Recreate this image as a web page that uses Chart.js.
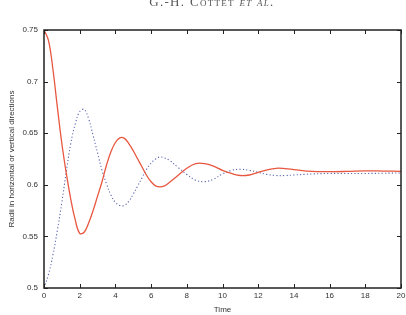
<!DOCTYPE html>
<html>
<head>
<meta charset="utf-8">
<script src="https://cdn.jsdelivr.net/npm/chart.js@4.4.1/dist/chart.umd.min.js"></script>
<style>
html,body{margin:0;padding:0;background:#fff;}
#wrap{position:relative;width:406px;height:315px;overflow:hidden;}
#hdr{position:absolute;left:0;width:424px;top:-6px;text-align:center;font-family:"Liberation Serif","DejaVu Serif",serif;font-size:13px;color:#555;font-variant:small-caps;letter-spacing:1.3px;}
canvas{position:absolute;left:0;top:0;}
</style>
</head>
<body>
<div id="wrap">
<canvas id="c" width="406" height="315"></canvas>
<div id="hdr">G.-H. Cottet <i>et al.</i></div>
</div>
<script>
const xTicks = [0,2,4,6,8,10,12,14,16,18,20];
const yTicks = [0.5,0.55,0.6,0.65,0.7,0.75];
const yTickLabels = ["0.5","0.55","0.6","0.65","0.7","0.75"];

const redTime  = [0,0.25,0.5,0.75,1.0,1.25,1.5,1.75,2.0,2.25,2.5,2.75,3.0,3.25,3.5,3.75,4.0,4.25,4.5,4.75,5.0,5.25,5.5,5.75,6.0,6.25,6.5,6.75,7.0,7.5,8.0,8.5,9.0,9.5,10.0,10.5,11.0,11.5,12.0,12.5,13.0,13.5,14.0,15,16,17,18,19,20];
const redValue = [0.750,0.740,0.712,0.675,0.640,0.611,0.586,0.566,0.553,0.554,0.563,0.575,0.589,0.603,0.619,0.632,0.641,0.6455,0.645,0.640,0.633,0.625,0.617,0.609,0.603,0.599,0.598,0.599,0.602,0.609,0.616,0.6205,0.6205,0.618,0.614,0.611,0.609,0.6095,0.612,0.6145,0.616,0.6157,0.6148,0.613,0.6127,0.613,0.6135,0.6133,0.613];

const blueTime  = [0,0.25,0.5,0.75,1.0,1.25,1.5,1.75,2.0,2.25,2.5,2.75,3.0,3.25,3.5,3.75,4.0,4.25,4.5,4.75,5.0,5.25,5.5,5.75,6.0,6.25,6.5,6.75,7.0,7.5,8.0,8.5,9.0,9.5,10.0,10.5,11.0,11.5,12.0,12.5,13.0,13.5,14.0,15,16,17,18,19,20];
const blueValue = [0.500,0.513,0.532,0.556,0.583,0.613,0.640,0.659,0.671,0.673,0.664,0.648,0.631,0.614,0.601,0.590,0.583,0.580,0.580,0.584,0.591,0.599,0.607,0.615,0.621,0.625,0.627,0.626,0.624,0.617,0.610,0.6045,0.603,0.6055,0.6105,0.614,0.615,0.614,0.612,0.610,0.609,0.609,0.6095,0.6105,0.611,0.611,0.611,0.6112,0.6115];

const toXY = (t,v) => t.map((x,i)=>({x:x,y:v[i]}));

const frame = {
  id:'frame',
  afterDatasetsDraw(chart){
    const {ctx, chartArea:a, scales:{x, y}} = chart;
    ctx.save();
    ctx.strokeStyle = '#222';
    ctx.lineWidth = 1;
    ctx.beginPath();
    xTicks.forEach(v=>{
      const p = Math.round(x.getPixelForValue(v))+0.5;
      ctx.moveTo(p,a.bottom); ctx.lineTo(p,a.bottom-4);
      ctx.moveTo(p,a.top); ctx.lineTo(p,a.top+4);
    });
    yTicks.forEach(v=>{
      const p = Math.round(y.getPixelForValue(v))+0.5;
      ctx.moveTo(a.left,p); ctx.lineTo(a.left+4,p);
      ctx.moveTo(a.right,p); ctx.lineTo(a.right-4,p);
    });
    ctx.stroke();
    ctx.lineWidth = 1.5;
    ctx.strokeRect(a.left, a.top, a.right-a.left, a.bottom-a.top);
    ctx.restore();
  }
};

new Chart(document.getElementById('c'), {
  type:'line',
  data:{
    datasets:[
      {data:toXY(redTime,redValue), borderColor:'#e8563f', borderWidth:1.3, pointRadius:0, tension:0.4, fill:false},
      {data:toXY(blueTime,blueValue), borderColor:'#5a67b0', borderWidth:1.1, borderDash:[1.2,2.2], pointRadius:0, tension:0.4, fill:false}
    ]
  },
  options:{
    responsive:false, animation:false,
    layout:{padding:{top:30,right:5,left:0,bottom:0}},
    plugins:{legend:{display:false}, tooltip:{enabled:false}},
    scales:{
      x:{type:'linear', min:0, max:20,
        afterBuildTicks:s=>{s.ticks = xTicks.map(v=>({value:v}));},
        afterFit:s=>{s.height=27; s.paddingLeft=0; s.paddingRight=0;},
        grid:{display:false, drawTicks:false}, border:{display:false},
        ticks:{padding:3, color:'#333', font:{family:'"Liberation Sans", Arial, sans-serif', size:8}, maxRotation:0, autoSkip:false},
        title:{display:true, text:'Time', color:'#333', font:{family:'"Liberation Sans", Arial, sans-serif', size:8}, padding:{top:1,bottom:0}}
      },
      y:{type:'linear', min:0.5, max:0.75,
        afterBuildTicks:s=>{s.ticks = yTicks.map(v=>({value:v}));},
        afterFit:s=>{s.width=44; s.paddingTop=0; s.paddingBottom=0;},
        grid:{display:false, drawTicks:false}, border:{display:false},
        ticks:{padding:6, color:'#333', font:{family:'"Liberation Sans", Arial, sans-serif', size:8}, autoSkip:false,
          callback:(v)=>{const i=yTicks.findIndex(t=>Math.abs(t-v)<1e-9); return i>=0?yTickLabels[i]:'';}},
        title:{display:true, text:'Radii in horizontal or vertical directions', color:'#333', font:{family:'"Liberation Sans", Arial, sans-serif', size:8}, padding:{top:7,bottom:0}}
      }
    }
  },
  plugins:[frame]
});
</script>
</body>
</html>
